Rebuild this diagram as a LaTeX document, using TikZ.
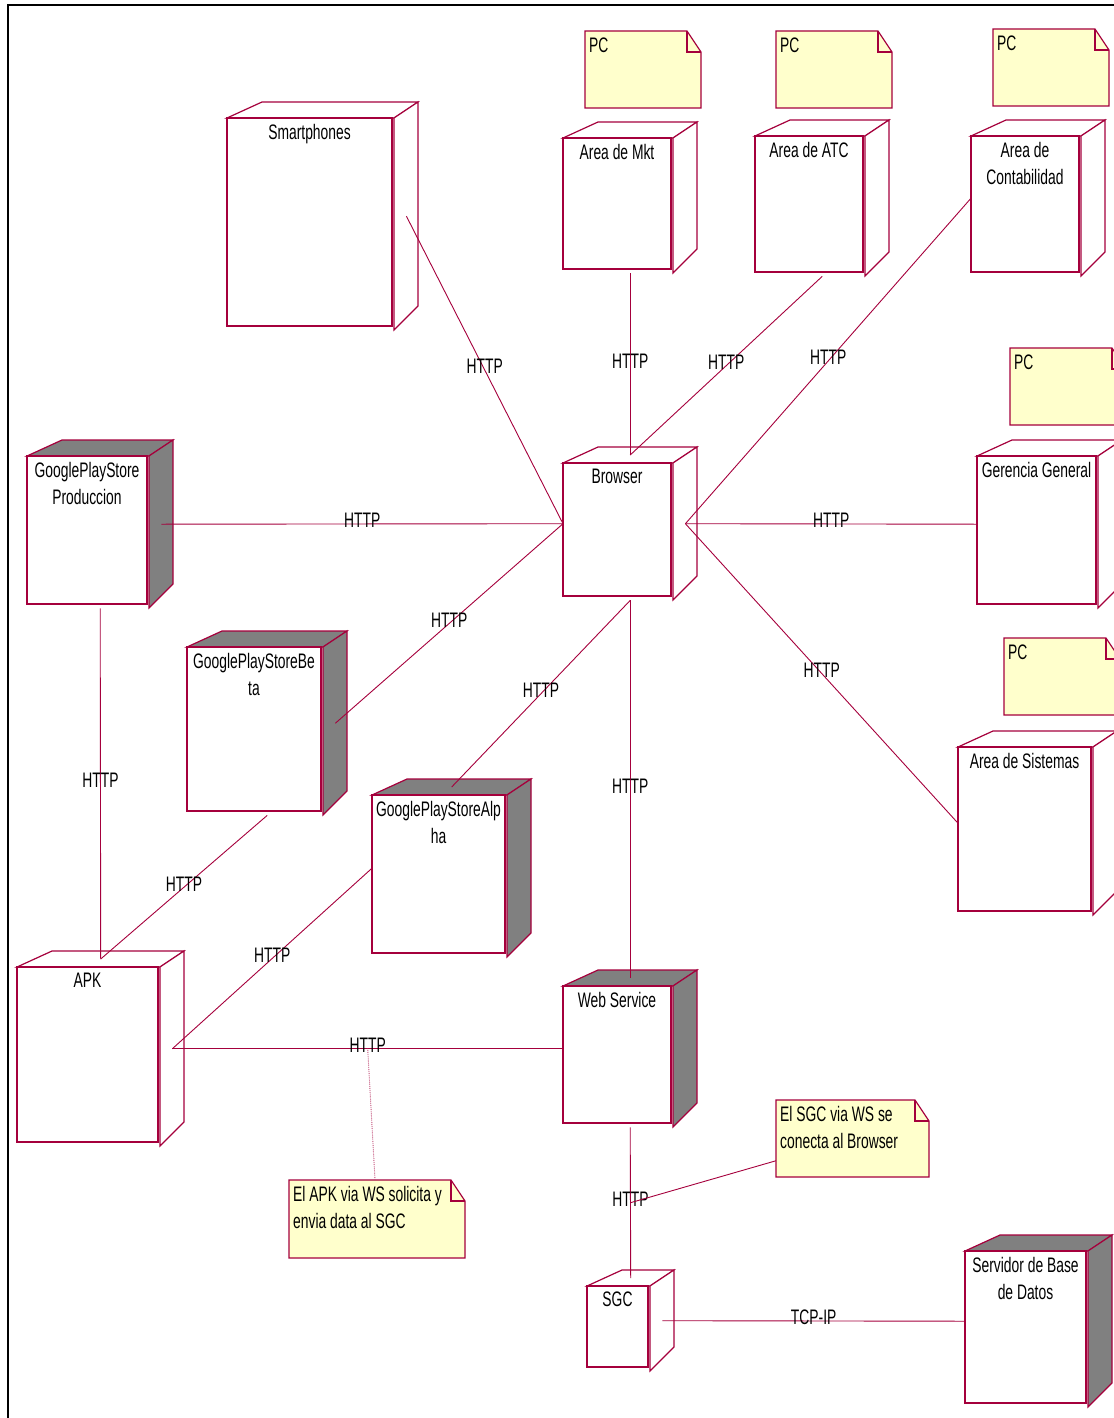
\documentclass[tikz,border=0pt]{standalone}
\usepackage{fontspec}
\setmainfont{Liberation Sans}[FakeStretch=0.66]

\definecolor{rose}{RGB}{165,0,60}
\definecolor{notefill}{RGB}{255,255,204}
\definecolor{devgray}{RGB}{128,128,128}

\tikzset{
  devline/.style={draw=rose, line width=1.2pt},
  devlabel/.style={font=\fontsize{21}{27}\selectfont, align=center, anchor=north, inner sep=0pt},
  link/.style={draw=rose, line width=0.9pt},
  linklabel/.style={font=\fontsize{21}{27}\selectfont, anchor=base, yshift=-4pt, inner sep=0pt},
  noteline/.style={draw=rose, line width=1.2pt, fill=notefill},
  notetext/.style={font=\fontsize{21}{27}\selectfont, align=left, anchor=north west, inner sep=0pt},
}

% device box: [side fill]{name}{x0}{y0}{x1}{y1}{label}, corners of the front face
\newcommand{\devbox}[7][white]{%
  \draw[devline, fill=#1] (#3,#4) -- ({#3+35},{#4-16}) -- ({#5+26},{#4-16}) -- ({#5+2},#4) -- cycle;
  \draw[devline, fill=#1] ({#5+2},#4) -- ({#5+26},{#4-16}) -- ({#5+26},{#6-20}) -- ({#5+2},{#6+4}) -- cycle;
  \draw[devline, fill=white] (#3,#4) rectangle (#5,#6);
  \node[devlabel] at ({(#3+#5)/2},{#4+6}) {#7};
  \node[inner sep=0pt, minimum width={#5+26-#3}, minimum height={#6-#4+20}, anchor=north west] (#2) at (#3,{#4-16}) {};
}

% note: {name}{x0}{y0}{x1}{y1}{text}
\newcommand{\notebox}[6]{%
  \draw[noteline] (#2,#3) -- ({#4-14},#3) -- (#4,{#3+21}) -- (#4,#5) -- (#2,#5) -- cycle;
  \draw[devline] ({#4-14},#3) -- ({#4-14},{#3+21}) -- (#4,{#3+21});
  \node[inner sep=0pt, minimum width={#4-#2}, minimum height={#5-#3}, anchor=north west] (#1) at (#2,#3) {};
  \node[notetext] at ({#2+4},{#3+6.5}) {#6};
}

\begin{document}
\begin{tikzpicture}[x=1pt, y=-1pt]
    \useasboundingbox (0,0) rectangle (1113,1418);
    \draw[line width=2pt] (7.5,1440) -- (7.5,5) -- (1140,5);

    % PC notes
    \notebox{pcmkt}{585}{31}{701}{108}{PC}
    \notebox{pcatc}{776}{31}{892}{108}{PC}
    \notebox{pcconta}{993}{29}{1109}{106}{PC}
    \notebox{pcger}{1010}{348}{1126}{425}{PC}
    \notebox{pcsis}{1004}{638}{1120}{715}{PC}

    % devices
    \devbox{smart}{227}{118}{392}{326}{Smartphones}
    \devbox{mkt}{563}{138}{671}{269}{Area de Mkt}
    \devbox{atc}{755}{136}{863}{272}{Area de ATC}
    \devbox{conta}{971}{136}{1079}{272}{Area de\\Contabilidad}
    \devbox{browser}{563}{463}{671}{596}{Browser}
    \devbox[devgray]{gpsprod}{27}{456}{147}{604}{GooglePlayStore\\Produccion}
    \devbox{gerencia}{977}{456}{1096}{604}{Gerencia General}
    \devbox[devgray]{gpsbeta}{187}{647}{321}{811}{GooglePlayStoreBe\\ta}
    \devbox{sistemas}{958}{747}{1091}{911}{Area de Sistemas}
    \devbox[devgray]{gpsalpha}{372}{795}{505}{953}{GooglePlayStoreAlp\\ha}
    \devbox{apk}{17}{967}{158}{1142}{APK}
    \devbox[devgray]{ws}{563}{986}{671}{1123}{Web Service}
    \devbox{sgc}{587}{1286}{648}{1367}{SGC}
    \devbox[devgray]{servidor}{965}{1251}{1086}{1403}{Servidor de Base\\de Datos}

    % HTTP to the browser
    \draw[link] ([xshift=-12pt]smart.east) -- node[linklabel] {HTTP} (browser.west);
    \draw[link] (mkt.south) -- node[linklabel] {HTTP} ([yshift=-8pt]browser.north);
    \draw[link] (atc.south) -- node[linklabel] {HTTP} ([yshift=-8pt]browser.north);
    \draw[link] ([xshift=-12pt]browser.east) -- node[linklabel] {HTTP} (conta.west);
    \draw[link] ([xshift=-12pt]gpsprod.east) -- node[linklabel] {HTTP} (browser.west);
    \draw[link] ([xshift=-12pt]browser.east) -- node[linklabel] {HTTP} (gerencia.west);
    \draw[link] ([xshift=-12pt]gpsbeta.east) -- node[linklabel] {HTTP} (browser.west);
    \draw[link] ([yshift=-8pt]gpsalpha.north) -- node[linklabel] {HTTP} (browser.south);
    \draw[link] ([xshift=-12pt]browser.east) -- node[linklabel] {HTTP} (sistemas.west);
    \draw[link] (browser.south) -- node[linklabel] {HTTP} ([yshift=-8pt]ws.north);

    % stores to the APK
    \draw[link] (gpsprod.south) -- node[linklabel] {HTTP} ([yshift=-8pt]apk.north);
    \draw[link] (gpsbeta.south) -- node[linklabel] {HTTP} ([yshift=-8pt]apk.north);
    \draw[link] (gpsalpha.west) -- node[linklabel] {HTTP} ([xshift=-12pt]apk.east);

    % back end
    \draw[link] ([xshift=-12pt]apk.east) -- coordinate[pos=0.5] (apkws) node[linklabel] {HTTP} (ws.west);
    \draw[link] (ws.south) -- coordinate[pos=0.5] (wssgc) node[linklabel] {HTTP} ([yshift=-8pt]sgc.north);
    \draw[link] ([xshift=-12pt]sgc.east) -- node[linklabel] {TCP-IP} (servidor.west);

    % comments
    \notebox{notesgc}{776}{1100}{929}{1177}{El SGC via WS se\\conecta al Browser}
    \notebox{noteapk}{289}{1180}{465}{1258}{El APK via WS solicita y\\envia data al SGC}
    \draw[link] (notesgc) -- (wssgc);
    \draw[link, draw=rose!70, densely dotted] (noteapk) -- (apkws);
\end{tikzpicture}
\end{document}
